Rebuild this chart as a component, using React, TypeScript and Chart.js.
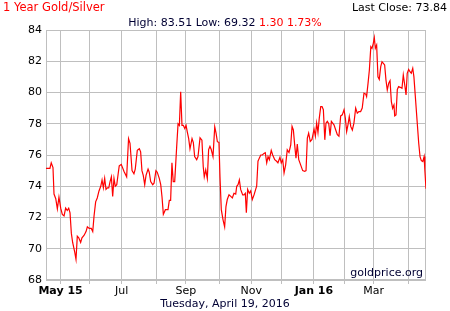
import React, { useEffect, useRef } from "react";
import { Chart, registerables } from "chart.js";

Chart.register(...registerables);

// Trading-day index (weekdays since Apr 20, 2015) and gold/silver ratio
const tradingDay: number[] = [
  0, 1.7, 2.7, 3.6, 4.8, 5.5, 6.7, 7.8, 8.9, 10.1, 11.2, 12.4, 13.5, 14.6, 15.6, 16.5, 17.4, 18.3, 19.7, 20.6,
  21.5, 22.5, 23.8, 24.7, 26.1, 27.5, 28.4, 29.7, 31.1, 32.1, 33.0, 34.1, 35.2, 36.4, 37.6, 38.5, 39.4, 40.3, 41.2, 42.1,
  43.1, 44.0, 44.9, 45.8, 46.7, 47.6, 48.6, 49.5, 50.3, 51.7, 53.6, 55.4, 56.7, 57.7, 59.1, 60.4, 61.3, 62.7, 64.1, 65.0,
  65.9, 66.8, 67.8, 68.7, 70.1, 70.9, 71.9, 73.3, 74.2, 75.5, 76.4, 77.8, 78.8, 79.7, 80.6, 82.0, 82.9, 83.8, 84.7, 85.6,
  86.5, 87.4, 88.4, 89.8, 90.7, 91.6, 92.5, 93.4, 94.3, 95.3, 96.2, 97.0, 98.0, 98.9, 100.3, 101.2, 102.1, 103.5, 104.4, 105.8,
  107.1, 108.0, 108.7, 109.7, 110.8, 111.7, 112.6, 113.5, 114.7, 115.9, 116.8, 117.7, 118.8, 119.5, 120.4, 121.6, 122.7, 123.6, 124.5, 125.7,
  126.9, 128.0, 129.1, 130.3, 131.0, 131.9, 132.8, 133.7, 135.1, 136.0, 136.9, 137.6, 138.5, 139.6, 140.6, 141.7, 142.9, 144.0, 144.7, 145.6,
  146.5, 147.5, 148.6, 149.7, 150.6, 151.6, 152.5, 153.4, 154.7, 155.7, 157.1, 158.4, 159.3, 160.7, 161.6, 162.6, 163.5, 164.6, 165.7, 166.9,
  168.1, 169.0, 169.9, 170.8, 171.7, 172.6, 173.6, 174.9, 176.3, 177.7, 178.6, 179.5, 180.4, 181.5, 182.7, 184.1, 185.0, 185.9, 186.8, 187.7,
  188.7, 189.6, 190.5, 191.5, 192.3, 193.2, 194.2, 195.1, 196.0, 196.9, 197.8, 199.0, 200.1, 201.2, 202.4, 203.5, 204.7, 205.6, 206.5, 207.4,
  208.3, 209.3, 210.4, 211.5, 212.7, 213.8, 214.9, 216.1, 217.2, 218.4, 219.6, 220.2, 221.2, 222.1, 223.1, 223.9, 224.8, 225.5, 226.2, 227.1,
  228.0, 228.9, 229.9, 230.8, 231.7, 232.6, 233.5, 234.4, 235.4, 236.3, 237.2, 238.1, 239.0, 239.5, 240.4, 241.3, 242.2, 243.3, 244.5, 245.4,
  246.4, 247.3, 248.1, 249.1, 250.0, 250.9, 251.9, 252.7, 253.6, 255.0, 256.0, 256.9, 257.8, 258.8, 259.7, 260.2, 261.0,
];

const ratio: number[] = [
  75.15, 75.15, 75.15, 75.5, 75.2, 73.5, 73.2, 72.55, 73.3, 72.6, 72.2, 72.1, 72.6, 72.45, 72.6, 72.3, 71.0, 70.4, 69.8, 69.32,
  70.8, 70.7, 70.4, 70.7, 70.85, 71.1, 71.4, 71.3, 71.3, 71.1, 72.1, 73.0, 73.25, 73.7, 74.0, 74.4, 73.9, 74.5, 73.8, 73.9,
  73.9, 74.3, 74.6, 73.35, 74.5, 74.0, 74.1, 74.75, 75.3, 75.4, 74.95, 74.6, 77.05, 76.75, 75.0, 74.8, 75.1, 76.3, 76.4, 76.2,
  75.0, 74.7, 74.1, 74.7, 75.1, 74.9, 74.3, 74.1, 74.2, 75.0, 74.9, 74.5, 74.1, 73.3, 72.2, 72.5, 72.5, 72.5, 73.1, 73.1,
  75.5, 74.3, 74.3, 76.6, 78.0, 77.9, 80.05, 77.9, 77.9, 77.7, 77.9, 77.5, 77.05, 76.4, 77.05, 76.8, 75.9, 75.7, 75.9, 77.1,
  76.95, 75.25, 74.6, 75.05, 74.5, 76.35, 76.55, 76.35, 75.9, 77.8, 77.4, 76.85, 76.8, 74.6, 72.5, 71.85, 71.4, 72.7, 73.15, 73.45,
  73.35, 73.25, 73.55, 73.5, 74.0, 74.1, 74.4, 73.8, 73.45, 73.45, 73.55, 72.3, 73.8, 73.55, 73.7, 73.15, 73.45, 73.8, 74.0, 75.6,
  75.8, 76.0, 76.0, 76.1, 76.15, 75.5, 75.9, 75.7, 76.3, 76.0, 75.7, 75.6, 75.5, 75.85, 75.5, 75.7, 74.85, 75.37, 76.33, 76.16,
  76.65, 77.83, 77.6, 76.65, 75.8, 76.7, 75.7, 75.37, 75.0, 74.95, 75.0, 77.08, 77.4, 76.87, 77.0, 77.65, 77.2, 78.04, 77.44, 78.36,
  79.1, 79.1, 78.9, 76.97, 78.04, 78.15, 78.0, 77.23, 78.15, 78.04, 77.93, 77.6, 77.3, 77.2, 78.5, 78.57, 78.9, 78.36, 77.5, 77.93,
  78.46, 77.83, 77.6, 78.04, 79.0, 78.68, 78.78, 78.78, 79.0, 79.96, 79.9, 79.74, 80.6, 81.44, 82.93, 82.83, 83.15, 83.51, 82.83, 83.04,
  81.0, 80.84, 81.65, 81.97, 81.87, 81.76, 80.8, 80.16, 80.6, 80.76, 79.42, 78.99, 79.2, 78.5, 78.56, 80.2, 80.38, 80.33, 80.27, 81.12,
  80.48, 79.84, 81.23, 81.48, 81.33, 81.23, 81.55, 81.0, 79.84, 78.03, 76.75, 75.9, 75.64, 75.58, 75.9, 75.04, 73.84,
];

// Month starts (trading-day index) and their labels
const monthTicks: number[] = [10, 30, 52, 76, 96, 119, 141, 162, 184, 205, 225, 249];
const monthLabels: string[] = ["May 15", "", "Jul", "", "Sep", "", "Nov", "", "Jan 16", "", "Mar", ""];
const boldLabels: string[] = ["May 15", "Jan 16"];

const yMin = 68;
const yMax = 84;
const yStep = 2;
const lastDay = 261;

const FONT = "Verdana, 'DejaVu Sans', sans-serif";
const GRID = "#bfbfbf";

const framePlugin = {
  id: "frame",
  beforeDatasetsDraw(chart: any) {
    const { ctx, chartArea } = chart;
    ctx.save();
    ctx.strokeStyle = GRID;
    ctx.lineWidth = 1;
    ctx.strokeRect(
      Math.round(chartArea.left) + 0.5,
      Math.round(chartArea.top) + 0.5,
      Math.round(chartArea.right - chartArea.left) - 1,
      Math.round(chartArea.bottom - chartArea.top) - 1
    );
    ctx.restore();
  },
};

export default function App() {
  const ref = useRef<HTMLCanvasElement | null>(null);

  useEffect(() => {
    if (!ref.current) return;
    const chart = new Chart(ref.current, {
      type: "line",
      data: {
        datasets: [
          {
            data: tradingDay.map((d, i) => ({ x: d, y: ratio[i] })),
            borderColor: "#ff0000",
            borderWidth: 1.2,
            pointRadius: 0,
            tension: 0,
            fill: false,
          },
        ],
      },
      options: {
        responsive: false,
        animation: false,
        devicePixelRatio: 1,
        layout: { padding: { left: 0, right: 24, top: 30, bottom: 0 } },
        plugins: { legend: { display: false }, tooltip: { enabled: false } },
        scales: {
          x: {
            type: "linear",
            min: 0,
            max: lastDay,
            afterBuildTicks: (axis: any) => {
              axis.ticks = monthTicks.map((v) => ({ value: v }));
            },
            afterFit: (s: any) => {
              s.height = 31;
            },
            ticks: {
              autoSkip: false,
              maxRotation: 0,
              padding: 1,
              color: "#000",
              callback: (_v: any, i: number) => monthLabels[i],
              font: (ctx: any) => ({
                family: FONT,
                size: 11,
                weight: ctx.tick && boldLabels.includes(monthLabels[ctx.index]) ? "bold" : "normal",
              }),
            },
            grid: { color: GRID, tickLength: 4, drawTicks: true },
            border: { display: false },
          },
          y: {
            min: yMin,
            max: yMax,
            afterFit: (s: any) => {
              s.width = 46;
            },
            ticks: {
              stepSize: yStep,
              padding: 4,
              color: "#000",
              font: { family: FONT, size: 11 },
            },
            grid: { color: GRID, drawTicks: false },
            border: { color: GRID },
          },
        },
      },
      plugins: [framePlugin],
    });
    return () => chart.destroy();
  }, []);

  const base: React.CSSProperties = {
    position: "absolute",
    fontFamily: FONT,
    fontSize: "11px",
    lineHeight: "13px",
    whiteSpace: "nowrap",
  };

  return (
    <div style={{ position: "absolute", left: 0, top: 0, width: 450, height: 311, background: "#fff" }}>
      <canvas ref={ref} width={450} height={311} style={{ display: "block" }} />
      <div style={{ ...base, left: 3, top: 1, color: "#ff0000", fontSize: "11.5px" }}>1 Year Gold/Silver</div>
      <div style={{ ...base, right: 3, top: 1, color: "#000" }}>Last Close: 73.84</div>
      <div style={{ ...base, left: 0, width: 450, top: 16, textAlign: "center", color: "#000033" }}>
        High: 83.51 Low: 69.32 <span style={{ color: "#ff0000" }}>1.30 1.73%</span>
      </div>
      <div style={{ ...base, right: 27, top: 266, color: "#000033" }}>goldprice.org</div>
      <div style={{ ...base, left: 0, width: 450, top: 297, textAlign: "center", color: "#000033" }}>
        Tuesday, April 19, 2016
      </div>
    </div>
  );
}
